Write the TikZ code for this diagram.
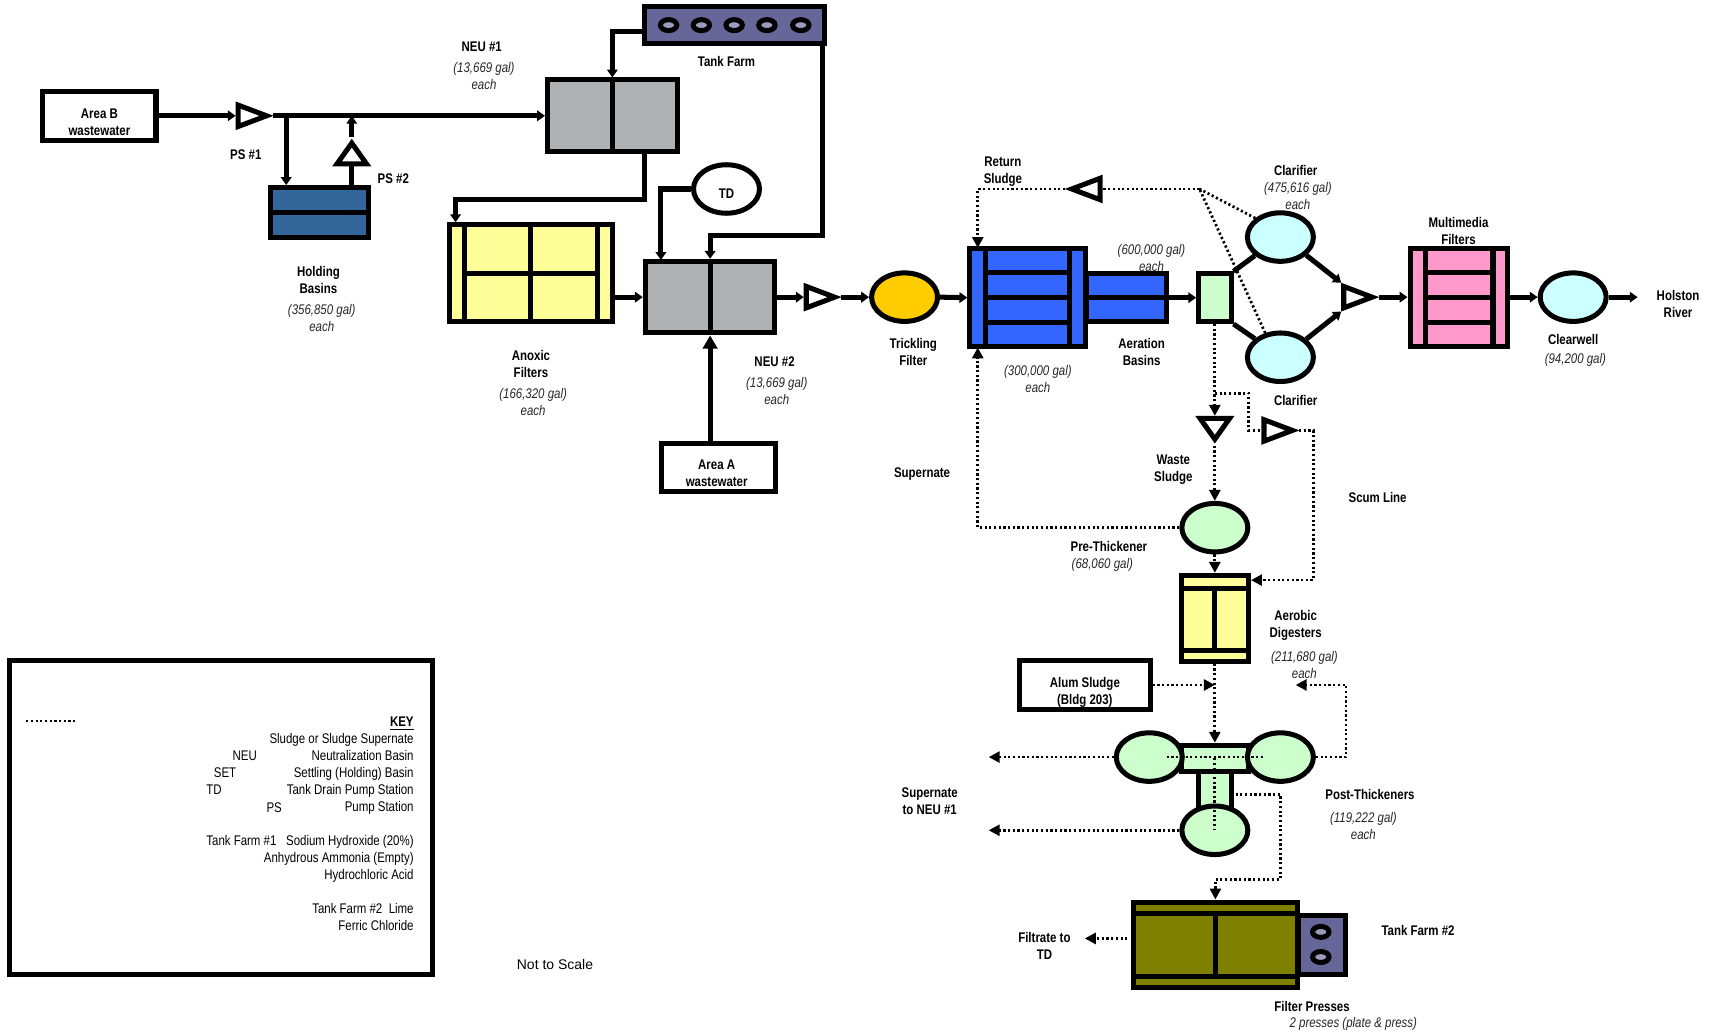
\documentclass[tikz,border=0pt]{standalone}
\usepackage{fontspec}
\setmainfont[FakeStretch=.82]{Liberation Sans}
\newfontfamily\plainfont{Liberation Sans}
\usepackage{xcolor}
\usetikzlibrary{arrows.meta,calc,positioning,shapes.geometric}
\definecolor{plantGray}{HTML}{AFB2B4}
\definecolor{plantYellow}{HTML}{FFFF99}
\definecolor{plantNavy}{HTML}{336699}
\definecolor{plantBlue}{HTML}{3366FF}
\definecolor{plantGreen}{HTML}{CCFFCC}
\definecolor{plantCyan}{HTML}{CCFFFF}
\definecolor{plantPink}{HTML}{FF99CC}
\definecolor{plantOlive}{HTML}{808000}
\definecolor{plantOrange}{HTML}{FFCC00}
\definecolor{plantPurple}{HTML}{666699}

\begin{document}
\begin{tikzpicture}[
  x=.5pt, y=-.5pt,
  font=\fontsize{6.4}{7.8}\selectfont,
  basin/.style={draw=black, line width=2.3pt, rectangle, inner sep=0pt, align=center},
  vessel/.style={draw=black, line width=2.3pt, ellipse, inner sep=0pt, minimum width=30.2pt, minimum height=22.2pt},
  ringmark/.style={draw=black, line width=2.3pt, ellipse, inner sep=0pt, minimum width=7.5pt, minimum height=5pt, fill=plantPurple!65},
  pump/.style={draw=black, line width=2.3pt, fill=white, isosceles triangle, isosceles triangle stretches, inner sep=0pt, minimum width=9.8pt, minimum height=13pt, anchor=apex},
  uppump/.style={pump, minimum width=13.5pt, minimum height=9.5pt},
  divider/.style={line width=2.3pt, draw=black},
  pipe/.style={-{Triangle[length=3.6pt,width=4.8pt]}, line width=2.3pt, draw=black},
  bigpipe/.style={-{Triangle[length=6pt,width=6.6pt]}, line width=2.3pt, draw=black},
  plainpipe/.style={line width=2.3pt, draw=black},
  sludgeline/.style={line width=1.25pt, draw=black, dash pattern=on 1pt off 1.15pt},
  sludge/.style={sludgeline, -{Triangle[length=5pt,width=5pt]}},
  tag/.style={font=\fontsize{6.4}{7.8}\selectfont\bfseries, align=center, inner sep=0pt},
  note/.style={font=\fontsize{6.4}{7.8}\selectfont\itshape, align=center, inner sep=0pt, text=black!85},
  keytext/.style={align=right, inner sep=0pt}
]
  \useasboundingbox (0,0) rectangle (1568,946);

  % tanks, basins
  \node[basin, minimum width=82.3pt, minimum height=16.8pt, fill=plantPurple] (tf1) at (672.5,23) {};
  \foreach \x/\n in {612/a,642/b,672/c,702/d,733/e}
    \node[ringmark] (tf1\n) at (\x,23) {};
  \node[basin, minimum width=51.8pt, minimum height=22.3pt] (areaB) at (91,106) {};
  \node[basin, minimum width=44.8pt, minimum height=22.8pt, fill=plantNavy] (hold) at (292.5,194.5) {};
  \node[basin, minimum width=59.3pt, minimum height=32.8pt, fill=plantGray] (neu1) at (560.5,106) {};
  \node[basin, minimum width=74.3pt, minimum height=44.3pt, fill=plantYellow] (anoxic) at (486,250) {};
  \node[basin, minimum width=59.3pt, minimum height=32.8pt, fill=plantGray] (neu2) at (650,272) {};
  \node[basin, minimum width=52.3pt, minimum height=22.3pt] (areaA) at (657.5,428) {};
  \node[vessel] (td) at (665,173) {};
  \node[vessel, fill=plantOrange] (trick) at (828,272) {};
  \node[basin, minimum width=36.3pt, minimum height=21.8pt, fill=plantBlue] (aer2) at (1031,272.5) {};
  \node[basin, minimum width=52.8pt, minimum height=44.8pt, fill=plantBlue] (aer1) at (940.5,272.5) {};
  \node[basin, minimum width=14.8pt, minimum height=21.8pt, fill=plantGreen] (sec) at (1112,272.5) {};
  \node[vessel, fill=plantCyan] (clar1) at (1172,217) {};
  \node[vessel, fill=plantCyan] (clar2) at (1172,327) {};
  \node[basin, minimum width=44.8pt, minimum height=44.8pt, fill=plantPink] (multi) at (1335.5,272) {};
  \node[vessel, fill=plantCyan] (clear) at (1440,272) {};
  \node[vessel, fill=plantGreen] (prethick) at (1112,483) {};
  \node[basin, minimum width=30.8pt, minimum height=39.3pt, fill=plantYellow] (digest) at (1112,566) {};
  \node[basin, minimum width=59.8pt, minimum height=22.3pt] (alum) at (993,627) {};
  \node[basin, minimum width=30.8pt, minimum height=11.8pt, fill=plantGreen] (pthoriz) at (1112,694) {};
  \node[basin, minimum width=15.3pt, minimum height=16.8pt, fill=plantGreen] (ptvert) at (1112,723) {};
  \node[vessel, fill=plantGreen] (ptleft) at (1052,693) {};
  \node[vessel, fill=plantGreen] (ptright) at (1172,693) {};
  \node[vessel, fill=plantGreen] (ptbottom) at (1112,760) {};
  \node[basin, minimum width=21.3pt, minimum height=27.3pt, fill=plantPurple] (tf2) at (1210,865) {};
  \node[ringmark] (tf2a) at (1209,853) {};
  \node[ringmark] (tf2b) at (1209,876) {};
  \node[basin, minimum width=74.8pt, minimum height=39.3pt, fill=plantOlive] (press) at (1112.5,865) {};

  % inner walls
  \draw[divider] (hold.west) -- (hold.east);
  \draw[divider] (neu1.north) -- (neu1.south);
  \draw[divider] (neu2.north) -- (neu2.south);
  \draw[divider] (anoxic.north) -- (anoxic.south);
  \draw[divider] ([xshift=8pt]anoxic.north west) -- ([xshift=8pt]anoxic.south west);
  \draw[divider] ([xshift=-8pt]anoxic.north east) -- ([xshift=-8pt]anoxic.south east);
  \draw[divider] ([xshift=8pt]anoxic.west) -- ([xshift=-8pt]anoxic.east);
  \draw[divider] (aer2.west) -- (aer2.east);
  \draw[divider] ([xshift=8.5pt]aer1.north west) -- ([xshift=8.5pt]aer1.south west);
  \draw[divider] ([xshift=-8.5pt]aer1.north east) -- ([xshift=-8.5pt]aer1.south east);
  \foreach \dy in {-11.5,0,11.5}
    \draw[divider] ([xshift=8.5pt,yshift=\dy pt]aer1.west) -- ([xshift=-8.5pt,yshift=\dy pt]aer1.east);
  \draw[divider] ([xshift=8pt]multi.north west) -- ([xshift=8pt]multi.south west);
  \draw[divider] ([xshift=-8pt]multi.north east) -- ([xshift=-8pt]multi.south east);
  \foreach \dy in {-11.5,0,11.5}
    \draw[divider] ([xshift=8pt,yshift=\dy pt]multi.west) -- ([xshift=-8pt,yshift=\dy pt]multi.east);
  \draw[divider] ([yshift=-7pt]digest.north west) -- ([yshift=-7pt]digest.north east);
  \draw[divider] ([yshift=6pt]digest.south west) -- ([yshift=6pt]digest.south east);
  \draw[divider] ([yshift=-7pt]digest.north) -- ([yshift=6pt]digest.south);
  \draw[divider] ([yshift=-6.5pt]press.north west) -- ([yshift=-6.5pt]press.north east);
  \draw[divider] ([yshift=6.5pt]press.south west) -- ([yshift=6.5pt]press.south east);
  \draw[divider] ([yshift=-6.5pt]press.north) -- ([yshift=6.5pt]press.south);

  % pumps
  \node[pump] (ps1) at (250,106) {};
  \node[uppump, shape border rotate=90] (ps2) at (322,125) {};
  \node[pump] (ps3) at (770,272) {};
  \node[pump] (ps4) at (1262,272) {};
  \node[pump, shape border rotate=180] (retpump) at (975,173) {};
  \node[uppump, shape border rotate=270] (wastepump) at (1112,408) {};
  \node[pump] (scumpump) at (1189,394) {};

  % free ends of the lines
  \coordinate (holdtap) at (262,106);
  \coordinate (tfout) at (590,29);
  \coordinate (tfright) at (753,40);
  \coordinate (tfbend) at (753,216);
  \coordinate (neuout) at (590,140);
  \coordinate (neubend) at (417,183);
  \coordinate (tdin) at (605,238);
  \coordinate (rettap) at (1098,173);
  \coordinate (retin) at (895,227);
  \coordinate (superin) at (895,318);
  \coordinate (scumtap) at (1112,360);
  \coordinate (scumbend) at (1143,394);
  \coordinate (scumdown) at (1202,531);
  \coordinate (ptoutA) at (905,693);
  \coordinate (ptoutB) at (905,760);
  \coordinate (ptbackA) at (1232,627);
  \coordinate (ptbackB) at (1186,627);
  \coordinate (ptinA) at (1068,693);
  \coordinate (ptinB) at (1157,693);
  \coordinate (feedA) at (1131,727);
  \coordinate (feedB) at (1172,805);
  \coordinate (filtA) at (1032,859);
  \coordinate (filtB) at (993,859);
  \coordinate (keyA) at (24,660);
  \coordinate (keyB) at (71,660);
  \coordinate (holston) at (1499,272);

  % process flow
  \draw[pipe] (areaB.east) -- (ps1.lower side);
  \draw[pipe] (ps1.apex) -- (neu1.west);
  \draw[pipe] (holdtap) -- (holdtap |- hold.north);
  \draw[plainpipe] (ps2.lower side |- hold.north) -- (ps2.lower side);
  \draw[pipe] (ps2.apex) -- (ps2.apex |- ps1.apex);
  \draw[pipe] (tfout) -| (neu1.north);
  \draw[pipe] (neuout) |- (neubend) -- (neubend |- anoxic.north);
  \draw[pipe] (anoxic.east |- neu2.west) -- (neu2.west);
  \draw[pipe] (td.west) -| (tdin);
  \draw[pipe] (tfright) -- (tfbend) -| (neu2.north);
  \draw[bigpipe] (neu2 |- areaA.north) -- (neu2.south);
  \draw[pipe] (neu2.east) -- (ps3.lower side);
  \draw[pipe] (ps3.apex) -- (trick.west);
  \draw[pipe] (trick.east) -- (aer1.west);
  \draw[pipe] (aer2.east) -- (sec.west);
  \draw[plainpipe] (sec.north east) -- (clar1.216);
  \draw[plainpipe] (sec.south east) -- (clar2.144);
  \draw[pipe] (clar1.-35) -- (ps4.left corner);
  \draw[pipe] (clar2.35) -- (ps4.right corner);
  \draw[pipe] (ps4.apex) -- (multi.west);
  \draw[pipe] (multi.east) -- (clear.west);
  \draw[pipe] (clear.east) -- (holston);

  % sludge lines
  \draw[sludgeline] (clar1.143) -- (rettap);
  \draw[sludgeline] (clar2.122) -- (rettap);
  \draw[sludgeline] (rettap) -- (retpump.lower side);
  \draw[sludge] (retpump.apex) -| (retin);
  \draw[sludge] (sec.south) -- (wastepump.lower side);
  \draw[sludge] (wastepump.apex) -- (prethick.north);
  \draw[sludgeline] (scumtap) -| (scumbend) -- (scumpump.lower side);
  \draw[sludge] (scumpump.apex) -| (scumdown) -- (digest.east |- scumdown);
  \draw[sludge] (prethick.west) -| (superin);
  \draw[sludge] (prethick.south) -- (digest.north);
  \draw[sludge] (digest.south) -- (pthoriz.north);
  \draw[sludge] (alum.east) -- (digest.south |- alum.east);
  \draw[sludgeline] (ptinA) -- (ptinB);
  \draw[sludgeline] (pthoriz.center) -- (ptbottom.center);
  \draw[sludge] (ptleft.west) -- (ptoutA);
  \draw[sludge] (ptbottom.west) -- (ptoutB);
  \draw[sludge] (ptright.east) -| (ptbackA) -- (ptbackB);
  \draw[sludge] (feedA) -| (feedB) -| (press.north);
  \draw[sludge] (filtA) -- (filtB);

  % labels
  \node[tag] (areaBlbl) at (91,111.5) {Area B\\wastewater};
  \node[tag] (areaAlbl) at (656,433.5) {Area A\\wastewater};
  \node[tag] (tdlbl) at (665,177) {TD};
  \node[tag] (alumlbl) at (993,633.5) {Alum Sludge\\(Bldg 203)};
  \node[tag] (neu1lbl) at (441,43) {NEU \#1};
  \node[note, below=4.5pt of neu1lbl.south, xshift=1pt] (neu1vol) {(13,669 gal)\\each};
  \node[tag] (tf1lbl) at (665,56) {Tank Farm};
  \node[tag] (ps1lbl) at (225,142) {PS \#1};
  \node[tag] (ps2lbl) at (360,164) {PS \#2};
  \node[tag] (holdlbl) at (291.5,256.5) {Holding\\Basins};
  \node[note, below=4.5pt of holdlbl.south, xshift=1.5pt] (holdvol) {(356,850 gal)\\each};
  \node[tag] (anoxlbl) at (486,333.5) {Anoxic\\Filters};
  \node[note, below=4.5pt of anoxlbl.south, xshift=1pt] (anoxvol) {(166,320 gal)\\each};
  \node[tag] (neu2lbl) at (709,331) {NEU \#2};
  \node[note, below=4.5pt of neu2lbl.south, xshift=1pt] (neu2vol) {(13,669 gal)\\each};
  \node[tag] (tricklbl) at (836,322.5) {Trickling\\Filter};
  \node[tag] (retlbl) at (918,157.5) {Return\\Sludge};
  \node[tag] (clar1lbl) at (1186,156) {Clarifier};
  \node[note, below=2.5pt of clar1lbl.south, xshift=1pt] (clar1vol) {(475,616 gal)\\each};
  \node[note] (aer2vol) at (1054,236) {(600,000 gal)\\each};
  \node[tag] (multilbl) at (1335,211.5) {Multimedia\\Filters};
  \node[tag] (aerlbl) at (1045,322.5) {Aeration\\Basins};
  \node[note] (aer1vol) at (950,347) {(300,000 gal)\\each};
  \node[tag] (clearlbl) at (1440,311) {Clearwell};
  \node[note, below=3.5pt of clearlbl.south, xshift=1pt] (clearvol) {(94,200 gal)};
  \node[tag] (riverlbl) at (1536,278) {Holston\\River};
  \node[tag] (clar2lbl) at (1186,367) {Clarifier};
  \node[tag] (wastelbl) at (1074,429.5) {Waste\\Sludge};
  \node[tag] (superlbl) at (844,434) {Supernate};
  \node[tag] (scumlbl) at (1261,455) {Scum Line};
  \node[tag] (prelbl) at (1015,500) {Pre-Thickener};
  \node[note, below=3pt of prelbl.south, xshift=-3pt] (prevol) {(68,060 gal)};
  \node[tag] (diglbl) at (1186,572.5) {Aerobic\\Digesters};
  \node[note, below=4.5pt of diglbl.south, xshift=4pt] (digvol) {(211,680 gal)\\each};
  \node[tag] (ptlbl) at (1254,727) {Post-Thickeners};
  \node[note, below=5.5pt of ptlbl.south, xshift=-3pt] (ptvol) {(119,222 gal)\\each};
  \node[tag] (toneulbl) at (851,733) {Supernate\\to NEU \#1};
  \node[tag] (filtlbl) at (956,865.5) {Filtrate to\\TD};
  \node[tag] (tf2lbl) at (1298,852) {Tank Farm \#2};
  \node[tag] (presslbl) at (1201,921) {Filter Presses};
  \node[note, anchor=west] (pressnote) at (1180,937) {2 presses (plate \& press)};

  % key
  \node[basin, minimum width=193.8pt, minimum height=143.8pt] (keybox) at (202.5,748.5) {};
  \draw[sludgeline] (keyA) -- (keyB);
  \node[keytext, anchor=north east] (keylist) at (379,655.5) {\textbf{\underline{KEY}}\\
    Sludge or Sludge Supernate\\
    Neutralization Basin\\
    Settling (Holding) Basin\\
    Tank Drain Pump Station\\
    Pump Station\\[7.8pt]
    Tank Farm \#1\ \ \hspace{1.5pt}Sodium Hydroxide (20\%)\\
    Anhydrous Ammonia (Empty)\\
    Hydrochloric Acid\\[7.8pt]
    Tank Farm \#2\ \ Lime\\
    Ferric Chloride};
  \node[inner sep=0pt] (keyneu) at (224,692) {NEU};
  \node[inner sep=0pt] (keyset) at (206,707) {SET};
  \node[inner sep=0pt] (keytd) at (196,723) {TD};
  \node[inner sep=0pt] (keyps) at (251,739) {PS};
  \node[inner sep=0pt, font=\plainfont\fontsize{6.4}{7.8}\selectfont] (scale) at (508,883) {Not to Scale};
\end{tikzpicture}
\end{document}
